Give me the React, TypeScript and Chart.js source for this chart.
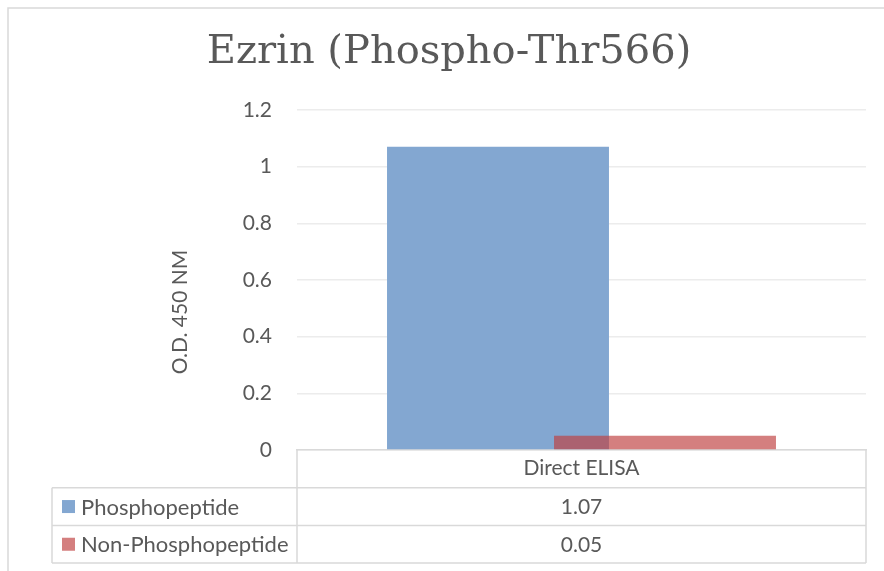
import React, { useEffect, useRef } from 'react';
import { Chart, registerables } from 'chart.js';

Chart.register(...registerables);

// ---- data ----
const chartTitle = 'Ezrin (Phospho-Thr566)';
const yAxisTitle = 'O.D. 450 NM';
const categories = ['Direct ELISA'];
const seriesNames = ['Phosphopeptide', 'Non-Phosphopeptide'];
const phosphopeptideValues = [1.07];
const nonPhosphopeptideValues = [0.05];
const yMin = 0;
const yMax = 1.2;
const yStep = 0.2;

// ---- styles ----
const textColor = '#595959';
const sansFont = 'Lato, "Open Sans", sans-serif';
const serifFont = '"DejaVu Serif", serif';
const lineColor = '#d9d9d9';
const seriesColors = ['rgb(131,167,209)', 'rgba(191,64,64,0.67)'];

const W = 884;
const H = 571;

const chromePlugin = {
  id: 'excelChrome',
  beforeDraw(chart: any) {
    const ctx = chart.ctx;
    ctx.save();
    ctx.fillStyle = '#ffffff';
    ctx.fillRect(0, 0, W, H);
    ctx.strokeStyle = lineColor;
    ctx.lineWidth = 1.5;
    ctx.beginPath();
    ctx.moveTo(8, H);
    ctx.lineTo(8, 8);
    ctx.lineTo(W, 8);
    ctx.stroke();
    ctx.restore();
  },
  // draw the second series on top of the first (overlapping bars)
  beforeDatasetDraw(chart: any, args: any) {
    if (args.index === 1) return false;
    return true;
  },
  afterDatasetsDraw(chart: any) {
    const ctx = chart.ctx;
    const meta = chart.getDatasetMeta(1);
    const a = chart.chartArea;
    ctx.save();
    ctx.beginPath();
    ctx.rect(a.left, a.top, a.right - a.left, a.bottom - a.top);
    ctx.clip();
    meta.data.forEach((el: any) => el.draw(ctx));
    ctx.restore();
  },
  afterDraw(chart: any) {
    const ctx = chart.ctx;
    const a = chart.chartArea;
    const xScale = chart.scales.x;
    const rowH = 37.7;
    const top = a.bottom;
    const tableLeft = 52;
    const r1 = top + rowH;
    const r2 = top + rowH * 2;
    const r3 = top + rowH * 3;

    ctx.save();
    ctx.strokeStyle = lineColor;
    ctx.lineWidth = 1.5;
    ctx.beginPath();
    // vertical lines
    ctx.moveTo(a.left, top);
    ctx.lineTo(a.left, r3);
    ctx.moveTo(a.right, top);
    ctx.lineTo(a.right, r3);
    ctx.moveTo(tableLeft, r1);
    ctx.lineTo(tableLeft, r3);
    // horizontal lines
    [r1, r2, r3].forEach((y) => {
      ctx.moveTo(tableLeft, y);
      ctx.lineTo(a.right, y);
    });
    ctx.stroke();

    // rows
    const rows = [phosphopeptideValues, nonPhosphopeptideValues];
    ctx.fillStyle = textColor;
    ctx.textBaseline = 'middle';
    rows.forEach((vals, i) => {
      const cy = top + rowH * (i + 1.5);
      ctx.fillStyle = seriesColors[i];
      ctx.fillRect(62, cy - 6.5, 13, 13);
      ctx.fillStyle = textColor;
      ctx.textAlign = 'left';
      ctx.font = '22px ' + sansFont;
      ctx.fillText(seriesNames[i], 81, cy + 1);
      ctx.textAlign = 'center';
      ctx.font = '21px ' + sansFont;
      vals.forEach((v, j) => {
        ctx.fillText(String(v), xScale.getPixelForValue(j), cy + 1);
      });
    });

    // y axis title
    ctx.font = '21px ' + sansFont;
    ctx.translate(180, 312);
    ctx.rotate(-Math.PI / 2);
    ctx.textAlign = 'center';
    ctx.textBaseline = 'middle';
    ctx.fillText(yAxisTitle, 0, 0);
    ctx.restore();
  },
};

export default function App() {
  const ref = useRef<HTMLCanvasElement | null>(null);

  useEffect(() => {
    if (!ref.current) return;
    const chart = new Chart(ref.current, {
      type: 'bar',
      data: {
        labels: categories,
        datasets: [
          {
            label: seriesNames[0],
            data: phosphopeptideValues,
            backgroundColor: seriesColors[0],
            borderWidth: 0,
          },
          {
            label: seriesNames[1],
            data: nonPhosphopeptideValues,
            backgroundColor: seriesColors[1],
            borderWidth: 0,
          },
        ],
      },
      options: {
        responsive: false,
        animation: false,
        events: [],
        datasets: {
          bar: {
            categoryPercentage: 0.587,
            barPercentage: 1.329,
          },
        },
        layout: { padding: { left: 32, right: 18, top: 0, bottom: 0 } },
        plugins: {
          legend: { display: false },
          tooltip: { enabled: false },
          title: {
            display: true,
            text: chartTitle,
            color: textColor,
            font: { family: serifFont, size: 40, weight: 'normal', lineHeight: 1.2 },
            padding: { top: 29, bottom: 33 },
          },
        },
        scales: {
          x: {
            grid: { display: false, drawTicks: false },
            border: { display: true, color: lineColor, width: 1.5 },
            ticks: {
              color: textColor,
              font: { family: sansFont, size: 21 },
              padding: 6,
            },
            afterFit: (scale: any) => {
              scale.height = 121;
            },
          },
          y: {
            min: yMin,
            max: yMax,
            grid: { color: '#ececec', lineWidth: 1.5, drawTicks: false },
            border: { display: false },
            ticks: {
              stepSize: yStep,
              color: textColor,
              font: { family: sansFont, size: 21 },
              padding: 25,
              callback: (v: any) => String(Number(Number(v).toFixed(2))),
            },
            afterFit: (scale: any) => {
              scale.width = 265;
            },
          },
        },
      },
      plugins: [chromePlugin],
    });
    return () => chart.destroy();
  }, []);

  return (
    <div style={{ position: 'fixed', left: 0, top: 0, width: W, height: H, background: '#fff' }}>
      <canvas ref={ref} width={W} height={H} style={{ display: 'block' }} />
    </div>
  );
}
